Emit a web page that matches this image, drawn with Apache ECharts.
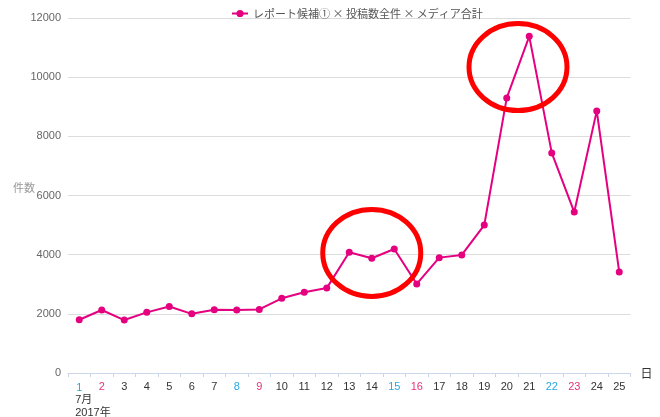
<!DOCTYPE html>
<html><head><meta charset="utf-8">
<script src="https://cdn.jsdelivr.net/npm/echarts@6/dist/echarts.min.js"></script>
<style>html,body{margin:0;padding:0;background:#fff}#c{width:660px;height:417px}</style>
</head><body><div id="c"></div>
<script>
const days = ['1','2','3','4','5','6','7','8','9','10','11','12','13','14','15','16','17','18','19','20','21','22','23','24','25'];
const counts = [1800, 2130, 1790, 2050, 2250, 2000, 2140, 2130, 2150, 2525, 2730, 2870, 4080, 3880, 4190, 3010, 3900, 3990, 5000, 9300, 11380, 7440, 5440, 8860, 3410];
const seriesName = 'レポート候補① × 投稿数全件 × メディア合計';
const blueDays = ['1','8','15','22'];
const pinkDays = ['2','9','16','23'];
const monthLabel = '7月';
const yearLabel = '2017年';
const yMax = 12000, yStep = 2000;
const yName = '件数', xName = '日';
// annotation ellipses: [category a, category b, value]
const marks = [[13, 13, 4060], [19, 20, 10340]];

const FONT = "'Liberation Sans','Noto Sans CJK JP',sans-serif";
const JP = "'Noto Sans CJK JP',sans-serif";
const PINK = '#e4007f';
const chart = echarts.init(document.getElementById('c'), null, {renderer: 'canvas'});
chart.setOption({
  animation: false,
  backgroundColor: '#fff',
  textStyle: {fontFamily: FONT},
  legend: {
    top: 3, left: 226, itemWidth: 16, itemHeight: 9, itemGap: 10,
    textStyle: {fontFamily: JP, fontSize: 11, color: '#555'},
    data: [seriesName]
  },
  grid: {left: 68, right: 29.5, top: 18, bottom: 44, containLabel: false, outerBoundsMode: 'none'},
  xAxis: {
    type: 'category', data: days, boundaryGap: true,
    name: xName, nameLocation: 'end', nameGap: 10, nameMoveOverlap: false,
    nameTextStyle: {fontFamily: JP, fontSize: 12, color: '#333', padding: [38, 0, 0, 0]},
    axisLine: {lineStyle: {color: '#ccd6eb', width: 1}},
    axisTick: {show: true, length: 4, lineStyle: {color: '#ccd6eb'}},
    axisLabel: {
      interval: 0, margin: 8, fontSize: 11, fontFamily: FONT,
      formatter: function (v, i) {
        const st = blueDays.includes(v) ? 'bl' : (pinkDays.includes(v) ? 'pk' : 'k');
        if (i === 0) return '{' + st + '1|' + v + '}\n{m|' + monthLabel + '}\n{m|' + yearLabel + '}';
        return '{' + st + '|' + v + '}';
      },
      rich: {
        k: {color: '#333', fontSize: 11, fontFamily: FONT},
        bl: {color: '#29a8e0', fontSize: 11, fontFamily: FONT},
        pk: {color: '#e6337a', fontSize: 11, fontFamily: FONT},
        bl1: {color: '#29a8e0', fontSize: 11, fontFamily: FONT, width: 8, align: 'center', lineHeight: 13},
        m: {color: '#333', fontSize: 11, fontFamily: FONT, width: 8, align: 'left', lineHeight: 12.5}
      }
    }
  },
  yAxis: {
    type: 'value', min: 0, max: yMax, interval: yStep,
    name: yName, nameLocation: 'middle', nameRotate: 0, nameGap: 33, nameMoveOverlap: false,
    nameTextStyle: {fontFamily: JP, fontSize: 11, color: '#999', verticalAlign: 'bottom', padding: [0, 0, 2, 0]},
    axisLine: {show: false}, axisTick: {show: false},
    axisLabel: {margin: 7, fontSize: 11, color: '#666', fontFamily: FONT, formatter: function (v) { return String(v); }},
    splitLine: {lineStyle: {color: '#dcdcdc', width: 1}}
  },
  series: [{
    name: seriesName, type: 'line', data: counts,
    symbol: 'circle', symbolSize: 7,
    lineStyle: {color: PINK, width: 2},
    itemStyle: {color: PINK}
  }]
});

const graphics = marks.map(function (m) {
  const p1 = chart.convertToPixel({seriesIndex: 0}, [m[0], m[2]]);
  const p2 = chart.convertToPixel({seriesIndex: 0}, [m[1], m[2]]);
  return {
    type: 'ellipse', z: 100,
    shape: {cx: (p1[0] + p2[0]) / 2, cy: p1[1], rx: 49, ry: 43.5},
    style: {fill: 'none', stroke: '#ff0000', lineWidth: 5}
  };
});
chart.setOption({graphic: graphics});
</script>
</body></html>
